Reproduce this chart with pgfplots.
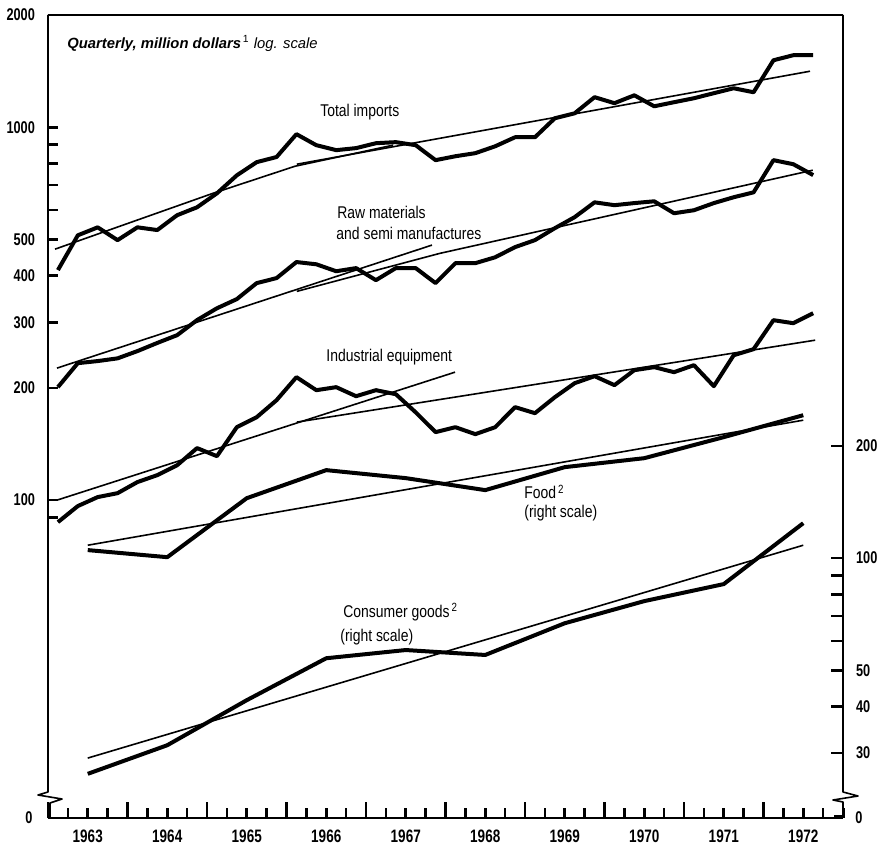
\documentclass[border=0pt]{standalone}
\usepackage{fontspec}
\setmainfont{Liberation Sans}
\newfontfamily\labfont[FakeStretch=0.82]{Liberation Sans}
\newfontfamily\tickfont[FakeStretch=0.75]{Liberation Sans}
\usepackage{pgfplots}
\usepackage{pgfplotstable}
\pgfplotsset{compat=1.18}

\pgfplotstableread{
x        ti    rm   ie
1963.125 414  201  87.3
1963.375 513  233  96.4
1963.625 539  236  101.9
1963.875 498  240  104.4
1964.125 539  251  111.8
1964.375 530  264  116.7
1964.625 581  277  124.1
1964.875 610  304  137.9
1965.125 665  327  131.2
1965.375 743  346  156.9
1965.625 806  382  166.9
1965.875 832  394  185.4
1966.125 958  435  213.7
1966.375 895  429  197.2
1966.625 868  411  200.9
1966.875 879  419  190.0
1967.125 906  389  197.2
1967.375 912  419  192.4
1967.625 895  419  172.0
1967.875 816  382  152.2
1968.125 836  432  156.9
1968.375 852  432  150.3
1968.625 889  448  156.9
1968.875 940  477  177.6
1969.125 940  498  171.1
1969.375 1057 536  188.8
1969.625 1090 574  205.9
1969.875 1204 629  215.0
1970.125 1160 618  203.4
1970.375 1218 626  223.1
1970.625 1138 633  227.3
1970.875 1167 588  220.4
1971.125 1196 599  230.1
1971.375 1234 626  202.1
1971.625 1272 649  244.7
1971.875 1241 669  254.0
1972.125 1512 816  303.8
1972.375 1560 796  298.2
1972.625 1560 744  317.2
}\quarterly

\pgfplotstableread{
x      food  cons
1963.5 105.1 26.4
1964.5 100.6 31.5
1965.5 144.8 41.6
1966.5 172.2 53.9
1967.5 163.9 56.7
1968.5 152.2 55.0
1969.5 175.4 66.9
1970.5 185.4 76.7
1971.5 211.1 85.2
1972.5 241.7 124.1
}\annual

\begin{document}
\begin{tikzpicture}
\useasboundingbox (0,0) rectangle (441pt,425pt);
\pgfplotsset{
  frame/.style={at={(24pt,16pt)}, anchor=south west, scale only axis,
    width=397.5pt, height=401.5pt, xmin=1963, xmax=1973,
    axis line style={draw=none}, clip=false,
    tick align=inside,
    every tick/.style={black, line width=1.3pt},
    /pgf/number format/assume math mode=true},
  thick line/.style={black, line width=2pt, line join=round, no markers},
  thin line/.style={black, line width=0.8pt, no markers},
}
% main axis (left scale)
\begin{axis}[frame, name=main,
  ymode=log, ymin=14.05, ymax=2000,
  xtick=\empty,
  ytick={100,200,300,400,500,1000,2000},
  yticklabels={100,200,300,400,500,1000,2000},
  extra y ticks={90,600,700,800,900},
  extra y tick labels={},
  ytick pos=left,
  major tick length=5pt,
  yticklabel style={font=\tickfont\bfseries\fontsize{8.5}{9}\selectfont, xshift=-3pt},
  ]
\addplot[thick line] table[x=x,y=ti] {\quarterly};
\addplot[thick line] table[x=x,y=rm] {\quarterly};
\addplot[thick line] table[x=x,y=ie] {\quarterly};
% trend lines
\addplot[thin line] coordinates {(1963.088,471) (1965.075,665) (1966.107,786) (1967.34,895)};
\addplot[thin line] coordinates {(1966.13,796) (1972.585,1413)};
\addplot[thin line] coordinates {(1963.113,226) (1967.83,483)};
\addplot[thin line] coordinates {(1966.13,363) (1967.93,459) (1972.62,767)};
\addplot[thin line] coordinates {(1963.113,100) (1968.12,220.4)};
\addplot[thin line] coordinates {(1966.13,161.9) (1972.65,268.5)};
% labels
\node[anchor=west, inner sep=0pt, font=\fontsize{7.4}{8}\selectfont] at (axis cs:1963.239,1680)
  {\textbf{\textit{Quarterly, million dollars}}\textsuperscript{\,1} \textit{log. scale}};
\node[anchor=west, inner sep=0pt, font=\labfont\fontsize{8.5}{10}\selectfont] at (axis cs:1966.42,1097) {Total imports};
\node[anchor=west, inner sep=0pt, font=\labfont\fontsize{8.5}{10}\selectfont] at (axis cs:1966.635,591.6) {Raw materials};
\node[anchor=west, inner sep=0pt, font=\labfont\fontsize{8.5}{10}\selectfont] at (axis cs:1966.623,519.7) {and semi manufactures};
\node[anchor=west, inner sep=0pt, font=\labfont\fontsize{8.5}{10}\selectfont] at (axis cs:1966.497,241.7) {Industrial equipment};
\node[anchor=west, inner sep=0pt, font=\labfont\fontsize{8.5}{10}\selectfont] at (axis cs:1968.987,105.1) {Food\textsuperscript{\,2}};
\node[anchor=west, inner sep=0pt, font=\labfont\fontsize{8.5}{10}\selectfont] at (axis cs:1968.987,92.3) {(right scale)};
\node[anchor=west, inner sep=0pt, font=\labfont\fontsize{8.5}{10}\selectfont] at (axis cs:1966.711,50.1) {Consumer goods\textsuperscript{\,2}};
\node[anchor=west, inner sep=0pt, font=\labfont\fontsize{8.5}{10}\selectfont] at (axis cs:1966.673,42.9) {(right scale)};
\node[anchor=east, inner sep=0pt, font=\tickfont\bfseries\fontsize{8.5}{9}\selectfont] at (axis description cs:-0.019,0) {0};
\node[anchor=west, inner sep=0pt, font=\tickfont\bfseries\fontsize{8.5}{9}\selectfont] at (axis description cs:1.015,0) {0};
\end{axis}
% right scale axis
\begin{axis}[frame,
  ymode=log, ymin=20.1, ymax=2861,
  xtick=\empty,
  ytick={30,40,50,100,200},
  yticklabels={30,40,50,100,200},
  extra y ticks={60,70,80,90},
  extra y tick labels={},
  ytick pos=right, yticklabel pos=right,
  major tick length=6pt,
  yticklabel style={font=\tickfont\bfseries\fontsize{8.5}{9}\selectfont, xshift=3pt},
  ]
\addplot[thick line] table[x=x,y=food] {\annual};
\addplot[thick line] table[x=x,y=cons] {\annual};
\addplot[thin line] coordinates {(1963.5,108.3) (1972.5,234.4)};
\addplot[thin line] coordinates {(1963.5,29.1) (1972.5,108.3)};
\end{axis}
% x ticks axis
\begin{axis}[frame,
  ymin=0, ymax=1, ytick=\empty,
  xtick={1963,...,1973}, xticklabels={},
  minor xtick={1963.25,1963.5,1963.75,1964.25,1964.5,1964.75,1965.25,1965.5,1965.75,1966.25,1966.5,1966.75,1967.25,1967.5,1967.75,1968.25,1968.5,1968.75,1969.25,1969.5,1969.75,1970.25,1970.5,1970.75,1971.25,1971.5,1971.75,1972.25,1972.5,1972.75},
  xtick pos=bottom,
  major tick length=8pt, minor tick length=5pt,
  minor tick style={black, line width=1.3pt},
  extra x ticks={1963.5,1964.5,1965.5,1966.5,1967.5,1968.5,1969.5,1970.5,1971.5,1972.5},
  extra x tick labels={1963,1964,1965,1966,1967,1968,1969,1970,1971,1972},
  extra x tick style={major tick length=0pt},
  xticklabel style={font=\tickfont\bfseries\fontsize{9}{9}\selectfont, yshift=-2.5pt},
  ]
\addplot[draw=none, forget plot] coordinates {(1963,0.5)};
\end{axis}
% frame with breaks
\draw[line width=0.8pt] (24pt,417.5pt) -- (421.5pt,417.5pt);
\draw[line width=0.8pt, line join=round] (24pt,417.5pt) -- (24pt,29pt) -- (19pt,27.5pt) -- (31pt,25.5pt) -- (25pt,23.5pt) -- (25pt,16pt);
\draw[line width=0.9pt] (24pt,16pt) -- (421.5pt,16pt);
\draw[line width=0.8pt, line join=round] (421.5pt,417.5pt) -- (421.5pt,29pt) -- (429pt,27pt) -- (416.5pt,25pt) -- (421.5pt,24pt) -- (421.5pt,16pt);
\draw[line width=1.5pt] (417pt,16.5pt) -- (421.5pt,16.5pt) -- (421.5pt,21pt);
\end{tikzpicture}
\end{document}
